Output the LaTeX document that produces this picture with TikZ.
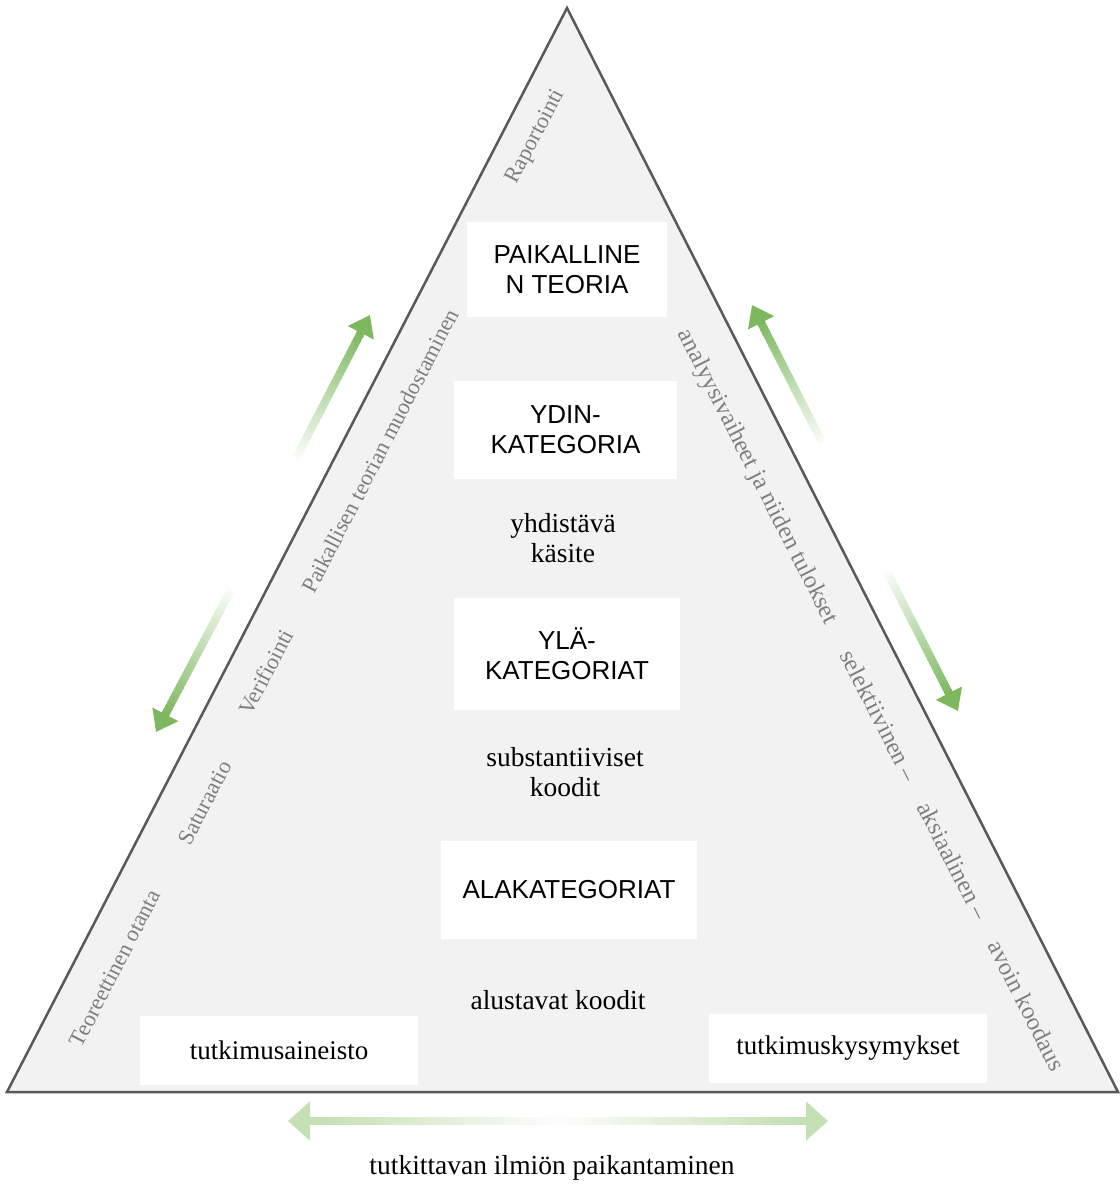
\documentclass[tikz,border=0pt]{standalone}
\usepackage{fontspec}
\setmainfont{Liberation Serif}
\newfontfamily\arialf{Liberation Sans}
\usetikzlibrary{calc,arrows.meta}
\definecolor{agreen}{HTML}{7DB85F}
\definecolor{lgreen}{HTML}{C5E0B4}
\definecolor{trifill}{HTML}{F2F2F2}
\definecolor{triedge}{HTML}{595959}
\definecolor{sidegray}{HTML}{7F7F7F}
\newcommand{\fadearrow}[5]{% tail, tip, color, head width, head length
  \foreach \i in {0,...,29}{
    \pgfmathsetmacro\pa{\i/30*0.88}
    \pgfmathsetmacro\pb{(\i+1.4)/30*0.88}
    \pgfmathtruncatemacro\pc{4+96*(\i+0.5)/30}
    \draw[line width=8pt, #3!\pc!white] ($(#1)!\pa!(#2)$) -- ($(#1)!\pb!(#2)$);
  }
  \draw[line width=8pt, #3, -{Triangle[width=#4, length=#5]}] ($(#1)!0.86!(#2)$) -- (#2);
}
\begin{document}
\begin{tikzpicture}[x=1pt,y=-1pt,
  tri/.style={fill=trifill, draw=triedge, line width=2.5pt, line join=miter},
  catbox/.style={fill=white, inner sep=0pt, align=center, font=\arialf\fontsize{26}{30}\selectfont},
  serifbox/.style={fill=white, inner sep=0pt, align=center, font=\fontsize{27}{30}\selectfont},
  seriftext/.style={inner sep=0pt, align=center, font=\fontsize{27.5}{30}\selectfont},
  sideleft/.style={inner sep=0pt, text=sidegray, rotate=62.68, font=\fontsize{22.5}{26}\selectfont},
  sideright/.style={inner sep=0pt, text=sidegray, rotate=-63.06, font=\fontsize{24.5}{26}\selectfont}]
\useasboundingbox (0,0) rectangle (1119,1185);
% triangle
\coordinate (L) at (7,1092);
\coordinate (T) at (567,8);
\coordinate (R) at (1118,1092);
\draw[tri] (L) -- (T) -- (R) -- cycle;

% boxes
\node[catbox, minimum width=200pt, minimum height=95pt] (teoria) at (567,269.5) {PAIKALLINE\\N TEORIA};
\node[catbox, minimum width=223pt, minimum height=98pt] (ydin) at (565.5,430) {YDIN-\\KATEGORIA};
\node[catbox, minimum width=226pt, minimum height=112pt] (yla) at (567,654) {YLÄ-\\KATEGORIAT};
\node[catbox, minimum width=256pt, minimum height=98pt] (ala) at (569,890) {ALAKATEGORIAT};
\node[serifbox, minimum width=278pt, minimum height=69pt] (aineisto) at (279,1050.5) {tutkimusaineisto};
\node[serifbox, minimum width=278pt, minimum height=69pt] (kysymykset) at (848,1048.5) {tutkimuskysymykset};

% serif texts
\node[seriftext] (kasite) at (563,538) {yhdistävä\\käsite};
\node[seriftext] (subst) at (565,772) {substantiiviset\\koodit};
\node[seriftext] (alust) at (558,1000) {alustavat koodit};
\node[seriftext] (paik) at (552,1168) {tutkittavan ilmiön paikantaminen};

% side texts
\node[sideleft] (rap) at (536,137) {Raportointi};
\node[sideleft] (muod) at (380,451) {Paikallisen teorian muodostaminen};
\node[sideleft] (verif) at (266,672) {Verifiointi};
\node[sideleft] (satur) at (205,803) {Saturaatio};
\node[sideleft] (otanta) at (115,968) {Teoreettinen otanta};
\node[sideright] (analyysi) at (757,477) {analyysivaiheet ja niiden tulokset};
\node[sideright] (koodaus) at (953,860) {selektiivinen –\hspace{1.1em}aksiaalinen –\hspace{1.1em}avoin koodaus};

% arrows
\coordinate (a1t) at (296,458); \coordinate (a1h) at (370,315);
\coordinate (a2t) at (231,590); \coordinate (a2h) at (156,732);
\coordinate (a3t) at (822,442); \coordinate (a3h) at (752,305);
\coordinate (a4t) at (887,572); \coordinate (a4h) at (958,711);
\coordinate (bc) at (558,1121); \coordinate (bl) at (288,1121); \coordinate (br) at (828,1121);
\fadearrow{a1t}{a1h}{agreen}{28pt}{20pt}
\fadearrow{a2t}{a2h}{agreen}{28pt}{20pt}
\fadearrow{a3t}{a3h}{agreen}{28pt}{20pt}
\fadearrow{a4t}{a4h}{agreen}{28pt}{20pt}
\fadearrow{bc}{bl}{lgreen}{38pt}{22pt}
\fadearrow{bc}{br}{lgreen}{38pt}{22pt}
\end{tikzpicture}
\end{document}
